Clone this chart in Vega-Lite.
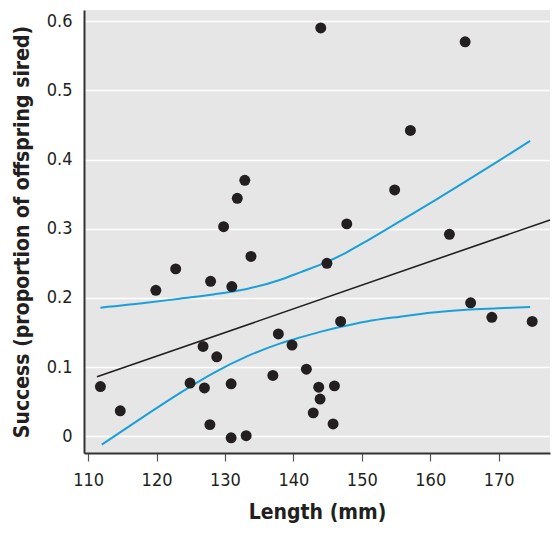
{
  "$schema": "https://vega.github.io/schema/vega-lite/v6.json",
  "autosize": "none",
  "padding": {"left": 84, "top": 10, "right": 10, "bottom": 83},
  "width": 466,
  "height": 443,
  "background": "white",
  "config": {
    "view": {"fill": "#e6e6e6", "stroke": null},
    "font": "DejaVu Sans Condensed, sans-serif",
    "axis": {
      "labelFont": "DejaVu Sans Condensed, sans-serif",
      "titleFont": "DejaVu Sans Condensed, sans-serif",
      "labelFontSize": 18,
      "titleFontSize": 21,
      "titleFontWeight": "bold",
      "labelColor": "#231f20",
      "titleColor": "#231f20",
      "gridColor": "white",
      "gridWidth": 1.5,
      "gridOpacity": 1,
      "domainColor": "#333333",
      "domainWidth": 2
    }
  },
  "datasets": {
    "points": [
      {"length": 144.0, "success": 0.590},
      {"length": 165.1, "success": 0.570},
      {"length": 157.1, "success": 0.442},
      {"length": 132.9, "success": 0.370},
      {"length": 154.8, "success": 0.356},
      {"length": 131.8, "success": 0.344},
      {"length": 147.8, "success": 0.307},
      {"length": 129.8, "success": 0.303},
      {"length": 162.8, "success": 0.292},
      {"length": 133.8, "success": 0.260},
      {"length": 144.9, "success": 0.250},
      {"length": 122.8, "success": 0.242},
      {"length": 127.9, "success": 0.224},
      {"length": 131.0, "success": 0.2165},
      {"length": 119.9, "success": 0.211},
      {"length": 165.9, "success": 0.193},
      {"length": 169.0, "success": 0.172},
      {"length": 174.9, "success": 0.166},
      {"length": 146.9, "success": 0.166},
      {"length": 137.8, "success": 0.148},
      {"length": 139.8, "success": 0.132},
      {"length": 126.8, "success": 0.130},
      {"length": 128.8, "success": 0.115},
      {"length": 141.9, "success": 0.097},
      {"length": 137.0, "success": 0.088},
      {"length": 124.9, "success": 0.077},
      {"length": 130.9, "success": 0.076},
      {"length": 111.8, "success": 0.072},
      {"length": 143.7, "success": 0.071},
      {"length": 127.0, "success": 0.070},
      {"length": 146.0, "success": 0.073},
      {"length": 143.9, "success": 0.054},
      {"length": 114.7, "success": 0.037},
      {"length": 142.9, "success": 0.034},
      {"length": 127.8, "success": 0.017},
      {"length": 145.8, "success": 0.018},
      {"length": 133.1, "success": 0.001},
      {"length": 130.9, "success": -0.002}
    ],
    "fit": [
      {"length": 111.3, "success": 0.086},
      {"length": 177.5, "success": 0.3127}
    ],
    "ci": [
      {"band": "upper", "length": 111.8, "success": 0.186},
      {"band": "upper", "length": 118.5, "success": 0.193},
      {"band": "upper", "length": 123.4, "success": 0.199},
      {"band": "upper", "length": 128.3, "success": 0.205},
      {"band": "upper", "length": 133.2, "success": 0.213},
      {"band": "upper", "length": 138.0, "success": 0.226},
      {"band": "upper", "length": 141.0, "success": 0.237},
      {"band": "upper", "length": 144.9, "success": 0.252},
      {"band": "upper", "length": 147.8, "success": 0.266},
      {"band": "upper", "length": 151.0, "success": 0.284},
      {"band": "upper", "length": 156.1, "success": 0.314},
      {"band": "upper", "length": 160.5, "success": 0.340},
      {"band": "upper", "length": 165.3, "success": 0.369},
      {"band": "upper", "length": 170.0, "success": 0.398},
      {"band": "upper", "length": 174.6, "success": 0.427},
      {"band": "lower", "length": 112.0, "success": -0.012},
      {"band": "lower", "length": 118.5, "success": 0.031},
      {"band": "lower", "length": 123.4, "success": 0.0625},
      {"band": "lower", "length": 128.3, "success": 0.0915},
      {"band": "lower", "length": 133.2, "success": 0.1155},
      {"band": "lower", "length": 138.0, "success": 0.134},
      {"band": "lower", "length": 141.0, "success": 0.143},
      {"band": "lower", "length": 143.9, "success": 0.151},
      {"band": "lower", "length": 146.8, "success": 0.158},
      {"band": "lower", "length": 150.7, "success": 0.166},
      {"band": "lower", "length": 155.6, "success": 0.173},
      {"band": "lower", "length": 160.4, "success": 0.179},
      {"band": "lower", "length": 165.3, "success": 0.183},
      {"band": "lower", "length": 170.0, "success": 0.185},
      {"band": "lower", "length": 174.6, "success": 0.187}
    ]
  },
  "encoding": {
    "x": {
      "field": "length",
      "type": "quantitative",
      "scale": {"domain": [109.4, 177.5], "nice": false, "zero": false},
      "axis": {
        "title": "Length (mm)",
        "values": [110, 120, 130, 140, 150, 160, 170],
        "grid": false,
        "tickSize": 8,
        "tickWidth": 1.2,
        "tickColor": "#555555",
        "labelPadding": 10,
        "titlePadding": 12
      }
    },
    "y": {
      "field": "success",
      "type": "quantitative",
      "scale": {"domain": [-0.024, 0.616], "nice": false, "zero": false},
      "axis": {
        "title": "Success (proportion of offspring sired)",
        "values": [0, 0.1, 0.2, 0.3, 0.4, 0.5, 0.6],
        "format": "~g",
        "ticks": false,
        "labelPadding": 12,
        "titlePadding": 14
      }
    }
  },
  "layer": [
    {
      "data": {"name": "ci"},
      "mark": {"type": "line", "color": "#1aa0d9", "strokeWidth": 2, "interpolate": "monotone"},
      "encoding": {"detail": {"field": "band", "type": "nominal"}}
    },
    {
      "data": {"name": "fit"},
      "mark": {"type": "line", "color": "#231f20", "strokeWidth": 1.6},
      "encoding": {}
    },
    {
      "data": {"name": "points"},
      "mark": {"type": "circle", "color": "#231f20", "opacity": 1, "size": 120}
    }
  ]
}
